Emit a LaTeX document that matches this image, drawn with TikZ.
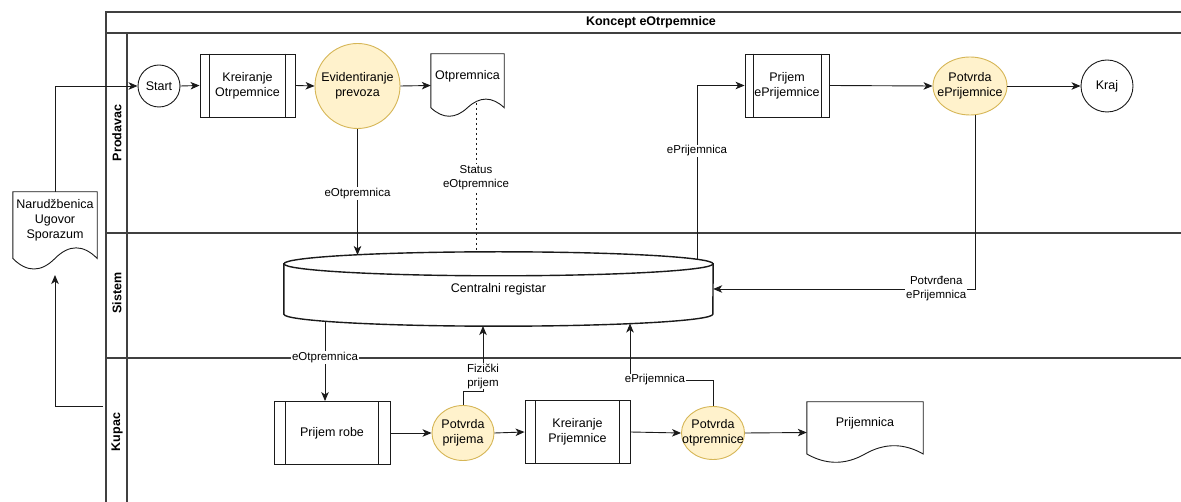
\documentclass[tikz,border=0pt]{standalone}
\usepackage{fontspec}
\setmainfont{Liberation Sans}
\usetikzlibrary{arrows.meta,calc,shapes.geometric}
\definecolor{fillY}{HTML}{FFF2CC}
\definecolor{drawY}{HTML}{D6B656}
\definecolor{lineC}{HTML}{1A1A1A}
\definecolor{poolC}{HTML}{404040}

\newcommand\docoutline[1]{%
  \coordinate (#1-sw) at (#1.south west);
  \coordinate (#1-se) at (#1.south east);
  \coordinate (#1-nw) at (#1.north west);
  \coordinate (#1-ne) at (#1.north east);
  \coordinate (#1-ya) at ($(#1-sw)!0.15!(#1-nw)$);
  \coordinate (#1-yb) at ($(#1-sw)!0.33!(#1-nw)$);
  \coordinate (#1-yc) at ($(#1-sw)!-0.03!(#1-nw)$);
  \coordinate (#1-x1) at ($(#1-sw)!0.8333!(#1-se)$);
  \coordinate (#1-x2) at ($(#1-sw)!0.6667!(#1-se)$);
  \coordinate (#1-x3) at ($(#1-sw)!0.5!(#1-se)$);
  \coordinate (#1-x4) at ($(#1-sw)!0.3333!(#1-se)$);
  \coordinate (#1-x5) at ($(#1-sw)!0.1667!(#1-se)$);
  \draw[shapeline] (#1-sw |- #1-ya) -- (#1-nw) -- (#1-ne) -- (#1-se |- #1-ya)
    .. controls (#1-x1 |- #1-yb) and (#1-x2 |- #1-yb) .. (#1-x3 |- #1-ya)
    .. controls (#1-x4 |- #1-yc) and (#1-x5 |- #1-yc) .. (#1-sw |- #1-ya) -- cycle;
}
\newcommand\procbars[1]{%
  \draw[shapeline] ($(#1.north west)!0.1!(#1.north east)$) -- ($(#1.south west)!0.1!(#1.south east)$)
                   ($(#1.north west)!0.9!(#1.north east)$) -- ($(#1.south west)!0.9!(#1.south east)$);
}

\begin{document}
\begin{tikzpicture}[x=1pt,y=-1pt,
  every node/.style={font=\fontsize{12.5}{15}\selectfont},
  shapeline/.style={draw=lineC, line width=0.9pt},
  pool/.style={draw=poolC, line width=1.2pt},
  flow/.style={draw=lineC, line width=0.9pt, -{Stealth[length=9pt,width=7.5pt,inset=2.5pt]}},
  dotline/.style={draw=lineC, line width=0.9pt, dash pattern=on 2.5pt off 2.5pt},
  proc/.style={shapeline, fill=white, rectangle, inner sep=0pt, align=center},
  docbox/.style={rectangle, inner sep=0pt, draw=none},
  evt/.style={shapeline, fill=white, circle, inner sep=0pt},
  task/.style={draw=drawY, line width=0.9pt, fill=fillY, ellipse, inner sep=0pt},
  inlbl/.style={align=center},
  elabel/.style={font=\fontsize{11.5}{14}\selectfont, fill=white, inner sep=1pt, align=center},
  lanelbl/.style={font=\bfseries\fontsize{12.5}{15}\selectfont, rotate=90},
]
\useasboundingbox (0,0) rectangle (1181,502);
\clip (0,0) rectangle (1181,502);
\fill[white] (0,0) rectangle (1181,502);

% pool and lanes
\draw[pool] (106,510) -- (106,12) -- (1190,12);
\draw[pool] (106,33) -- (1190,33);
\draw[pool] (127,33) -- (127,510);
\draw[pool] (106,233) -- (1190,233);
\draw[pool] (106,358) -- (1190,358);
\node[font=\bfseries\fontsize{12.5}{15}\selectfont] (title) at (651,22) {Koncept eOtrpemnice};
\node[lanelbl] (lp) at (117,133) {Prodavac};
\node[lanelbl] (ls) at (117,293) {Sistem};
\node[lanelbl] (lk) at (117,432) {Kupac};

% nodes
\node[docbox, minimum width=84pt, minimum height=78pt,
  label={[inlbl, yshift=11pt]center:Narud\v{z}benica\\Ugovor\\Sporazum}] (doc1) at (55,231) {};
\docoutline{doc1}

\node[evt, minimum size=42pt] (start) at (159,86) {Start};
\node[proc, minimum width=95pt, minimum height=63pt] (kro) at (247.5,85.5) {Kreiranje\\Otrpemnice};
\procbars{kro}
\node[task, minimum width=85pt, minimum height=85pt,
  label={[inlbl]center:Evidentiranje\\prevoza}] (evid) at (357.5,86) {};
\node[docbox, minimum width=73pt, minimum height=63pt,
  label={[inlbl, yshift=9.5pt]center:Otpremnica}] (otp) at (467.5,85.5) {};
\docoutline{otp}
\node[proc, minimum width=84pt, minimum height=63pt] (pep) at (787,85.5) {Prijem\\ePrijemnice};
\procbars{pep}
\node[task, minimum width=74pt, minimum height=58pt,
  label={[inlbl]center:Potvrda\\ePrijemnice}] (potep) at (970,86) {};
\node[evt, minimum size=52pt] (kraj) at (1107,86) {Kraj};

% cylinder
\node[rectangle, inner sep=0pt, minimum width=429pt, minimum height=74pt] (reg) at (498.5,289) {};
\draw[draw=lineC, line width=1.4pt, fill=white] ($(reg.north west)+(0,12)$) -- ($(reg.south west)+(0,-12)$)
  arc[start angle=180, end angle=360, x radius=214.5pt, y radius=12pt] -- ($(reg.north east)+(0,12)$) -- cycle;
\draw[draw=lineC, line width=1.4pt, fill=white] ($(reg.north)+(0,12)$) ellipse [x radius=214.5pt, y radius=12pt];
\node (regtxt) at (reg.center) {Centralni registar};

\node[proc, minimum width=116pt, minimum height=63pt] (pr) at (332,433) {Prijem robe};
\procbars{pr}
\node[task, minimum width=62pt, minimum height=55pt,
  label={[inlbl]center:Potvrda\\prijema}] (pp) at (463,433) {};
\node[proc, minimum width=105pt, minimum height=63pt] (kp) at (577.5,432) {Kreiranje\\Prijemnice};
\procbars{kp}
\node[task, minimum width=63pt, minimum height=53pt,
  label={[inlbl]center:Potvrda\\otpremnice}] (po) at (713,433) {};
\node[docbox, minimum width=116pt, minimum height=61pt,
  label={[inlbl, yshift=9.5pt]center:Prijemnica}] (prij) at (865,432.5) {};
\docoutline{prij}

% connector end points
\coordinate (reg-t1) at (357.5,255);
\coordinate (otp-b) at (476,103);
\coordinate (reg-t2) at (476,252);
\coordinate (reg-t3) at (697,259.5);
\coordinate (potep-b) at (975,115);
\coordinate (reg-b1) at (325,321);
\coordinate (fz) at (483,391);
\coordinate (reg-b2) at (483,326);
\coordinate (ep2) at (630,380);
\coordinate (reg-b3) at (630,323.5);
\coordinate (kupin) at (103,406);
\coordinate (d1b) at (55,275);

% connectors
\draw[flow] (doc1.north) |- (start.west);
\draw[flow] (start.east) -- (kro.west);
\draw[flow] (kro.east) -- (evid.west);
\draw[flow] (evid.east) -- (otp.west);
\draw[flow] (evid.south) -- node[elabel, pos=0.51] {eOtpremnica} (reg-t1);
\draw[dotline] (otp-b) -- node[elabel, pos=0.5] {Status\\eOtpremnice} (reg-t2);
\draw[flow] (reg-t3) |- node[elabel, pos=0.312] {ePrijemnica} (pep.west);
\draw[flow] (pep.east) -- (potep.west);
\draw[flow] (potep.east) -- (kraj.west);
\draw[flow] (potep-b) |- node[elabel, pos=0.574] {Potvrđena\\ePrijemnica} (reg.east);
\draw[flow] (reg-b1) -- node[elabel, pos=0.457] {eOtpremnica} (reg-b1 |- pr.north);
\draw[flow] (pr.east) -- (pp.west);
\draw[flow] (pp.north) |- (fz) -- node[elabel, pos=0.23] {Fizički\\prijem} (reg-b2);
\draw[flow] (pp.east) -- (kp.west);
\draw[flow] (kp.east) -- (po.west);
\draw[flow] (po.north) -- (po.north |- ep2) -- node[elabel, pos=0.7] {ePrijemnica} (ep2) -- (reg-b3);
\draw[flow] (po.east) -- (prij.west);
\draw[flow] (kupin) -| (d1b);
\end{tikzpicture}
\end{document}
